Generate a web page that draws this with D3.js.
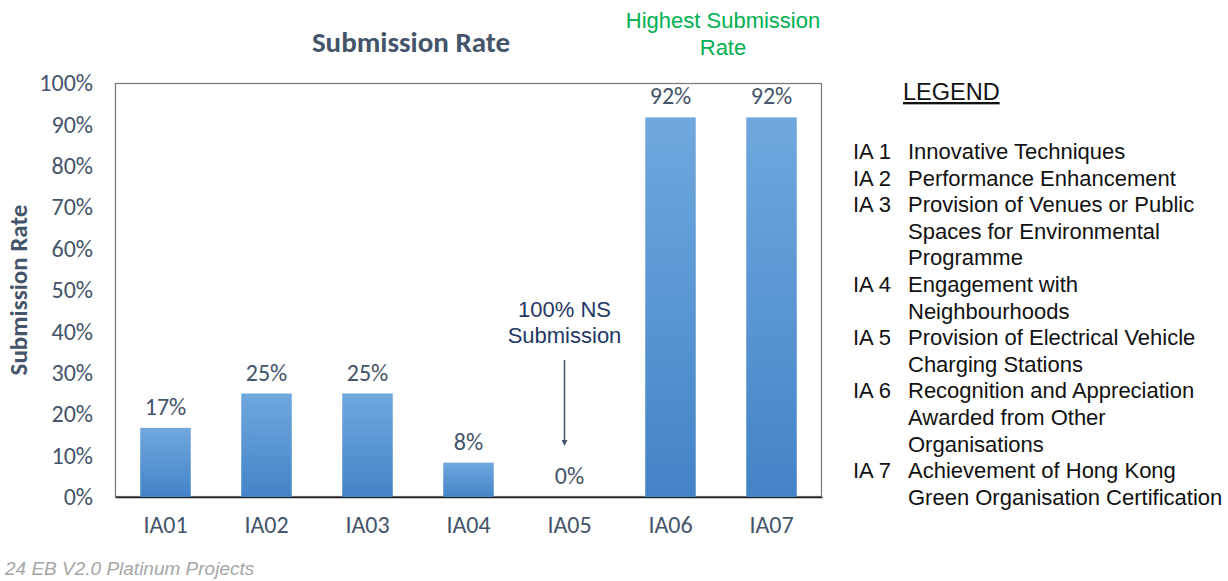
<!DOCTYPE html>
<html><head><meta charset="utf-8">
<script src="https://cdn.jsdelivr.net/npm/d3@7"></script>
<style>body{margin:0;background:#fff}svg{display:block}</style>
</head><body>
<script>
const categories = ["IA01","IA02","IA03","IA04","IA05","IA06","IA07"];
const values = [0.167, 0.25, 0.25, 0.083, 0, 0.917, 0.917];
const valueLabels = ["17%","25%","25%","8%","0%","92%","92%"];
const yTicks = [0,0.1,0.2,0.3,0.4,0.5,0.6,0.7,0.8,0.9,1.0];
const legendCodes = ["IA 1","IA 2","IA 3","IA 4","IA 5","IA 6","IA 7"];
const legendTexts = [
  ["Innovative Techniques"],
  ["Performance Enhancement"],
  ["Provision of Venues or Public","Spaces for Environmental","Programme"],
  ["Engagement with","Neighbourhoods"],
  ["Provision of Electrical Vehicle","Charging Stations"],
  ["Recognition and Appreciation","Awarded from Other","Organisations"],
  ["Achievement of Hong Kong","Green Organisation Certification"]
];

const W = 1228, H = 581;
const svg = d3.select("body").append("svg").attr("width", W).attr("height", H);
const defs = svg.append("defs");
const grad = defs.append("linearGradient").attr("id","barGrad").attr("x1",0).attr("y1",0).attr("x2",0).attr("y2",1);
grad.append("stop").attr("offset","0%").attr("stop-color","#70a8de");
grad.append("stop").attr("offset","100%").attr("stop-color","#4383c6");

const plot = {left:115, right:822, top:83, bottom:497};
const x = d3.scaleBand().domain(categories).range([plot.left, plot.right]).paddingInner(0.5).paddingOuter(0.25);
const y = d3.scaleLinear().domain([0,1]).range([plot.bottom, plot.top]);
const axisColor = "#44546a";
const calibri = "Carlito, Lato, 'Open Sans', sans-serif";
const arial = "'Liberation Sans', Arial, sans-serif";

// plot box
svg.append("rect").attr("x", plot.left+0.5).attr("y", plot.top+0.5)
  .attr("width", plot.right-plot.left-1).attr("height", plot.bottom-plot.top-1)
  .attr("fill","none").attr("stroke","#767676").attr("stroke-width",1.2);

// y axis
const yAxis = d3.axisLeft(y).tickValues(yTicks).tickFormat(d3.format(".0%")).tickSize(0).tickPadding(22);
const gy = svg.append("g").attr("transform",`translate(${plot.left},0)`).call(yAxis);
gy.select(".domain").remove();
gy.selectAll("text").attr("fill",axisColor).style("font-family",calibri).style("font-size","24px");

// x axis
const xAxis = d3.axisBottom(x).tickSize(0).tickPadding(19);
const gx = svg.append("g").attr("transform",`translate(0,${plot.bottom})`).call(xAxis);
gx.select(".domain").attr("stroke","#222").attr("stroke-width",1.5);
gx.selectAll("text").attr("fill",axisColor).style("font-family",calibri).style("font-size","24px");

// bars
svg.selectAll("rect.bar").data(categories).enter().append("rect").attr("class","bar")
  .attr("x", d => x(d)).attr("width", x.bandwidth())
  .attr("y", (d,i) => y(values[i])).attr("height", (d,i) => y(0) - y(values[i]))
  .attr("fill","url(#barGrad)");

// value labels
svg.selectAll("text.vl").data(categories).enter().append("text").attr("class","vl")
  .attr("x", d => x(d) + x.bandwidth()/2)
  .attr("y", (d,i) => y(values[i]) - 13)
  .attr("text-anchor","middle").attr("fill",axisColor)
  .style("font-family",calibri).style("font-size","24px")
  .text((d,i) => valueLabels[i]);

// title
svg.append("text").attr("x",411).attr("y",52).attr("text-anchor","middle")
  .attr("fill",axisColor).style("font-family",calibri).style("font-size","29px").style("font-weight","bold")
  .text("Submission Rate");

// y axis title
svg.append("text").attr("transform","translate(27,290) rotate(-90)").attr("text-anchor","middle")
  .attr("fill",axisColor).style("font-family",calibri).style("font-size","25px").style("font-weight","bold")
  .text("Submission Rate");

// highest annotation
const hl = svg.append("text").attr("text-anchor","middle").attr("fill","#00b050")
  .style("font-family",arial).style("font-size","22px");
hl.append("tspan").attr("x",723).attr("y",28).text("Highest Submission");
hl.append("tspan").attr("x",723).attr("y",55).text("Rate");

// NS annotation
const ia05 = x("IA05") + x.bandwidth()/2;
const ns = svg.append("text").attr("text-anchor","middle").attr("fill","#1f3864")
  .style("font-family",arial).style("font-size","22px");
ns.append("tspan").attr("x",ia05-5).attr("y",317).text("100% NS");
ns.append("tspan").attr("x",ia05-5).attr("y",343).text("Submission");
defs.append("marker").attr("id","arr").attr("viewBox","0 0 10 10").attr("refX",5).attr("refY",5)
  .attr("markerWidth",4).attr("markerHeight",4).attr("orient","auto")
  .append("path").attr("d","M0,0 L10,5 L0,10 z").attr("fill","#44546a");
svg.append("line").attr("x1",ia05-5).attr("x2",ia05-5).attr("y1",360).attr("y2",443)
  .attr("stroke","#44546a").attr("stroke-width",1.5).attr("marker-end","url(#arr)");

// legend
svg.append("text").attr("x",903).attr("y",100).attr("fill","#111")
  .style("font-family",arial).style("font-size","23.5px").style("text-decoration","underline")
  .text("LEGEND");
let line = 0;
const lg = svg.append("g").style("font-family",arial).style("font-size","22px").attr("fill","#111");
legendCodes.forEach((c,i) => {
  lg.append("text").attr("x",853).attr("y",159 + line*26.6).text(c);
  legendTexts[i].forEach(t => {
    lg.append("text").attr("x",908).attr("y",159 + line*26.6).text(t);
    line++;
  });
});

// footer
svg.append("text").attr("x",5).attr("y",575).attr("fill","#a6a6a6")
  .style("font-family",arial).style("font-size","19px").style("font-style","italic")
  .text("24 EB V2.0 Platinum Projects");
</script>
</body></html>
